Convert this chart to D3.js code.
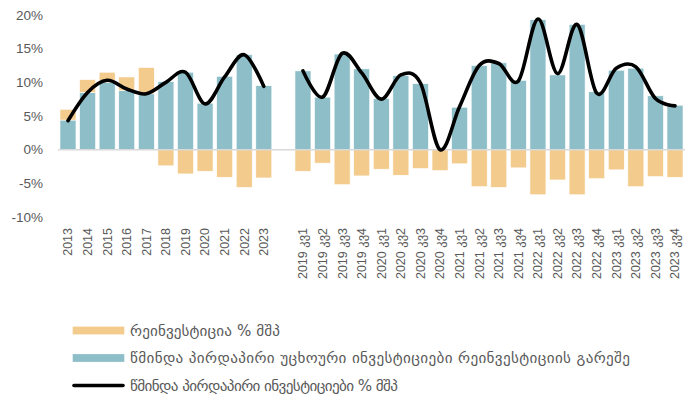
<!DOCTYPE html>
<html>
<head>
<meta charset="utf-8">
<script src="https://cdn.jsdelivr.net/npm/d3@7"></script>
<style>
  html, body { margin: 0; padding: 0; background: #fff; }
  svg { display: block; }
  text { font-family: "Liberation Sans", "DejaVu Sans", Arial, sans-serif; fill: #595959; }
</style>
</head>
<body>
<svg id="chart" width="685" height="401"></svg>
<script>
// ---------- data ----------
const years = ["2013","2014","2015","2016","2017","2018","2019","2020","2021","2022","2023"];
const quarters = [
  "2019 კვ1","2019 კვ2","2019 კვ3","2019 კვ4",
  "2020 კვ1","2020 კვ2","2020 კვ3","2020 კვ4",
  "2021 კვ1","2021 კვ2","2021 კვ3","2021 კვ4",
  "2022 კვ1","2022 კვ2","2022 კვ3","2022 კვ4",
  "2023 კვ1","2023 კვ2","2023 კვ3","2023 კვ4"
];
// net FDI excluding reinvestment (% GDP)
const netExclYear = [4.4, 8.5, 10.0, 8.8, 8.3, 10.1, 11.5, 6.9, 10.9, 14.1, 9.5];
const netExclQuarter = [11.7, 7.8, 14.2, 12.0, 7.6, 11.0, 9.8, 0.1, 6.3, 12.5, 12.9, 10.3, 19.3, 11.1, 18.6, 8.6, 11.8, 12.1, 8.0, 6.6];
// reinvestment (% GDP)
const reinvYear = [1.6, 1.9, 1.5, 2.0, 3.9, -2.4, -3.6, -3.2, -4.1, -5.6, -4.2];
const reinvQuarter = [-3.2, -2.0, -5.2, -3.9, -2.9, -3.8, -2.8, -3.1, -2.1, -5.5, -5.6, -2.7, -6.7, -4.5, -6.7, -4.3, -3.0, -5.5, -4.0, -4.1];
// net FDI (% GDP) line
const netYear = [4.3, 8.5, 10.3, 9.0, 8.3, 10.0, 11.5, 6.8, 10.8, 14.1, 9.4];
const netQuarter = [11.7, 7.8, 14.3, 11.4, 7.5, 11.1, 9.9, 0.0, 6.4, 12.5, 12.8, 10.2, 19.4, 11.3, 18.6, 8.4, 12.1, 12.3, 7.6, 6.5];
const yTicks = [-10, -5, 0, 5, 10, 15, 20];
const legendLabels = [
  "რეინვესტიცია % მშპ",
  "წმინდა პირდაპირი უცხოური ინვესტიციები რეინვესტიციის გარეშე",
  "წმინდა პირდაპირი ინვესტიციები % მშპ"
];
const colors = { reinv: "#F3CB8C", netExcl: "#8EBFC8", line: "#000000" };

// ---------- scales ----------
const gapKey = "__gap__";
const domain = years.concat([gapKey], quarters);
const x = d3.scaleBand().domain(domain).range([58.2, 684.8]).paddingInner(0.183).paddingOuter(0.0915);
const y = d3.scaleLinear().domain([-10, 20]).range([217, 15]);

const svg = d3.select("#chart");

// ---------- y axis labels ----------
const yAxis = d3.axisLeft(y).tickValues(yTicks).tickFormat(d => d + "%").tickSize(0).tickPadding(0);
const gy = svg.append("g").attr("transform", "translate(43,0)").call(yAxis);
gy.select(".domain").remove();
gy.selectAll("text").attr("font-size", "13.5px").attr("fill", "#595959")
  .style("font-family", '"Liberation Sans", Arial, sans-serif');

// ---------- bars ----------
const rows = [];
years.forEach((k, i) => rows.push({ key: k, base: netExclYear[i], re: reinvYear[i] }));
quarters.forEach((k, i) => rows.push({ key: k, base: netExclQuarter[i], re: reinvQuarter[i] }));

const gBars = svg.append("g");
gBars.selectAll("rect.base").data(rows).join("rect")
  .attr("class", "base")
  .attr("x", d => x(d.key))
  .attr("width", x.bandwidth())
  .attr("y", d => y(Math.max(0, d.base)))
  .attr("height", d => Math.abs(y(d.base) - y(0)))
  .attr("fill", colors.netExcl)
  .attr("stroke", "#fff").attr("stroke-width", 0.6);

gBars.selectAll("rect.re").data(rows).join("rect")
  .attr("class", "re")
  .attr("x", d => x(d.key))
  .attr("width", x.bandwidth())
  .attr("y", d => d.re >= 0 ? y(d.base + d.re) : y(0))
  .attr("height", d => d.re >= 0 ? y(d.base) - y(d.base + d.re) : y(d.re) - y(0))
  .attr("fill", colors.reinv)
  .attr("stroke", "#fff").attr("stroke-width", 0.6);

// zero line
svg.append("line")
  .attr("x1", 58).attr("x2", 685)
  .attr("y1", y(0)).attr("y2", y(0))
  .attr("stroke", "#D9D9D9").attr("stroke-width", 1.5);

// ---------- lines ----------
const line = d3.line()
  .x(d => x(d.key) + x.bandwidth() / 2)
  .y(d => y(d.v))
  .curve(d3.curveCardinal.tension(0));

const seriesA = years.map((k, i) => ({ key: k, v: netYear[i] }));
const seriesB = quarters.map((k, i) => ({ key: k, v: netQuarter[i] }));
[seriesA, seriesB].forEach(s => {
  svg.append("path").datum(s)
    .attr("d", line)
    .attr("fill", "none")
    .attr("stroke", colors.line)
    .attr("stroke-width", 3.6)
    .attr("stroke-linejoin", "round")
    .attr("stroke-linecap", "round");
});

// ---------- x labels ----------
const xAxis = d3.axisBottom(x).tickValues(years.concat(quarters)).tickSize(0).tickPadding(0);
const gx = svg.append("g").attr("transform", "translate(0,228)").call(xAxis);
gx.select(".domain").remove();
gx.selectAll("text")
  .attr("font-size", "12.5px")
  .attr("fill", "#595959")
  .attr("text-anchor", "end")
  .attr("transform", "rotate(-90)")
  .attr("x", 0)
  .attr("y", 0)
  .attr("dy", "0.35em")
  .style("font-family", '"Liberation Sans", "DejaVu Sans", Arial, sans-serif');

// ---------- legend ----------
const legY = [330.5, 358, 385.5];
const legWidths = [150, 500, 268];
const lg = svg.append("g");
lg.append("rect").attr("x", 72.7).attr("y", legY[0] - 3.9).attr("width", 51.6).attr("height", 7.8).attr("fill", colors.reinv);
lg.append("rect").attr("x", 72.7).attr("y", legY[1] - 3.9).attr("width", 51.6).attr("height", 7.8).attr("fill", colors.netExcl);
lg.append("line").attr("x1", 74).attr("x2", 123).attr("y1", legY[2]).attr("y2", legY[2])
  .attr("stroke", colors.line).attr("stroke-width", 3.6).attr("stroke-linecap", "round");
const legTexts = lg.selectAll("text.leg").data(legendLabels).join("text")
  .attr("class", "leg")
  .attr("x", 130)
  .attr("y", (d, i) => legY[i])
  .attr("dy", "0.35em")
  .attr("font-size", "13px")
  .attr("fill", "#595959")
  .style("font-family", '"DejaVu Sans", sans-serif')
  .text(d => d);
// fit legend font so the long row ends where the reference ends
const longW = legTexts.nodes()[1].getComputedTextLength();
const fs = 13 * 480 / longW;
legTexts.attr("font-size", fs + "px")
  .attr("textLength", (d, i) => legWidths[i])
  .attr("lengthAdjust", "spacing");
</script>
</body>
</html>
